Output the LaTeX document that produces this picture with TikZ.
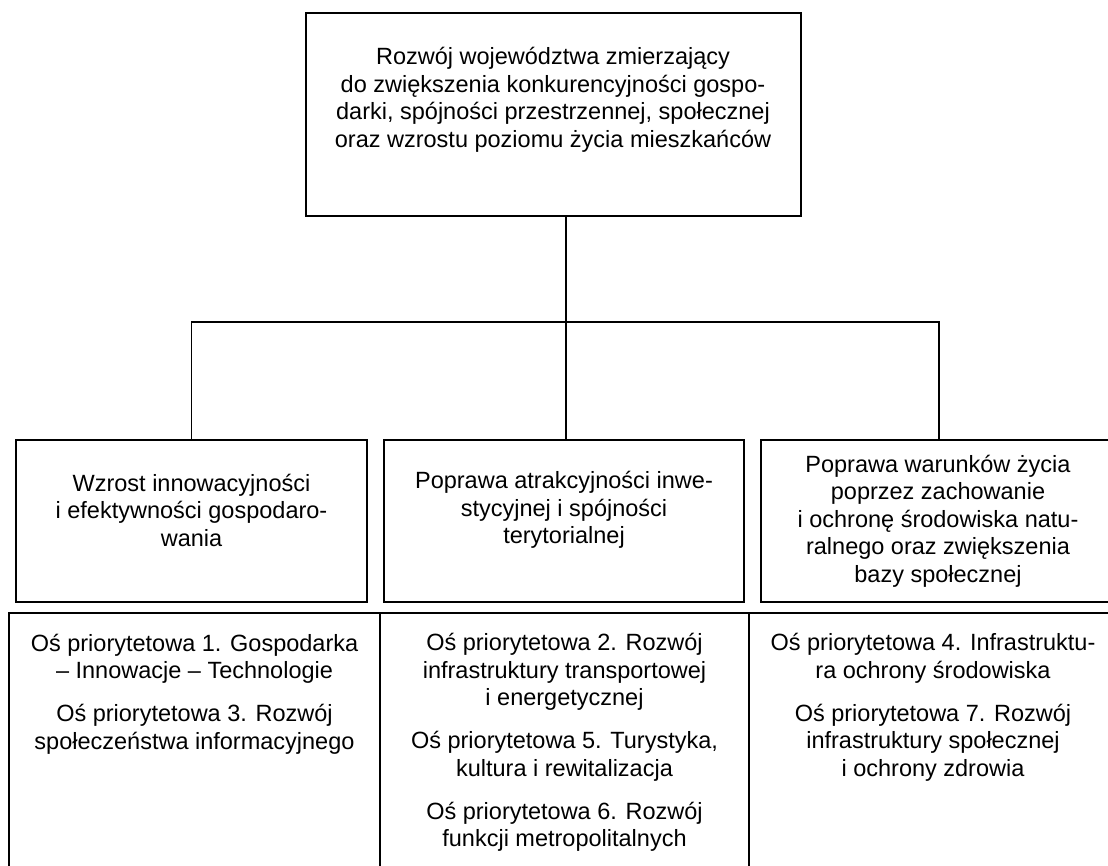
\documentclass[tikz,border=0pt]{standalone}
\usepackage{fontspec}
\setmainfont{Liberation Sans}
\begin{document}
\begin{tikzpicture}[x=1pt,y=-1pt,
  box/.style={draw, line width=1.3pt, inner sep=0pt},
  txt/.style={align=center, inner sep=0pt, font=\fontsize{23.5}{27.5}\selectfont},
  conn/.style={line width=1.2pt},
  tbl/.style={line width=2.2pt}]
\useasboundingbox (0,0) rectangle (1108,865);
% top box
\node[box, minimum width=495pt, minimum height=203pt] (top) at (553.5,114.5) {};
\node[txt] (toptxt) at (553,100) {Rozwój województwa zmierzający\\do zwiększenia konkurencyjności gospo-\\darki, spójności przestrzennej, społecznej\\oraz wzrostu poziomu życia mieszkańców};
% middle row boxes
\node[box, minimum width=351pt, minimum height=162pt] (b1) at (191.5,521) {};
\node[box, minimum width=360pt, minimum height=162pt] (b2) at (564,521) {};
\node[box, minimum width=356pt, minimum height=162pt] (b3) at (939,521) {};
\node[txt] (t1) at (191.5,510) {Wzrost innowacyjności\\i efektywności gospodaro-\\wania};
\node[txt] (t2) at (564,510) {Poprawa atrakcyjności inwe-\\stycyjnej i spójności\\terytorialnej};
\node[txt] (t3) at (938,521) {Poprawa warunków życia\\poprzez zachowanie\\i ochronę środowiska natu-\\ralnego oraz zwiększenia\\bazy społecznej};
% connectors
\coordinate (j) at (566,322);
\draw[conn] (top.south -| j) -- (j);
\draw[conn] (b1.north) |- (j) -| (b3.north);
\draw[conn] (j) -- (j |- b2.north);
% table
\draw[tbl] (9,880) -- (9,613) -- (1120,613);
\draw[tbl] (380,613) -- (380,880);
\draw[tbl] (749,613) -- (749,880);
\node[txt] (c1) at (194.5,694) {Oś priorytetowa 1. Gospodarka\\– Innowacje – Technologie\\[15.5pt]Oś priorytetowa 3. Rozwój\\społeczeństwa informacyjnego};
\node[txt] (c2) at (564.5,742.5) {Oś priorytetowa 2. Rozwój\\infrastruktury transportowej\\i energetycznej\\[15.5pt]Oś priorytetowa 5. Turystyka,\\kultura i rewitalizacja\\[15.5pt]Oś priorytetowa 6. Rozwój\\funkcji metropolitalnych};
\node[txt] (c3) at (933,707.5) {Oś priorytetowa 4. Infrastruktu-\\ra ochrony środowiska\\[15.5pt]Oś priorytetowa 7. Rozwój\\infrastruktury społecznej\\i ochrony zdrowia};
\end{tikzpicture}
\end{document}
